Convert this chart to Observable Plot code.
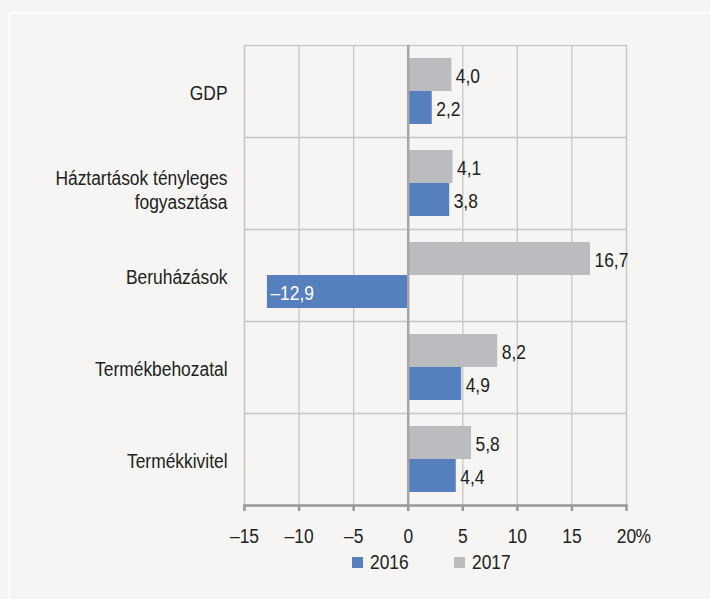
<!DOCTYPE html>
<html>
<head>
<meta charset="utf-8">
<script src="https://cdn.jsdelivr.net/npm/d3@7"></script>
<script src="https://cdn.jsdelivr.net/npm/@observablehq/plot@0.6"></script>
<style>
  html, body { margin: 0; padding: 0; background: #f6f5f3; }
  body { width: 710px; height: 599px; position: relative; overflow: hidden;
         font-family: "Liberation Sans", Arial, sans-serif; }
  #border { position: absolute; left: 8px; top: 12px; right: 0; bottom: 0;
            border-left: 2px solid #fdfcfa; border-top: 2px solid #fdfcfa; }
  #chart { position: absolute; left: 0; top: 0; }
  #legend { position: absolute; top: 551px; left: 352px; display: flex; align-items: center;
            font-size: 20px; color: #222; }
  #legend .item { display: flex; align-items: center; }
  #legend .sw { width: 11px; height: 11px; margin-right: 7px; }
  #legend .lbl { display: inline-block; transform: scaleX(0.87); transform-origin: left center; }
</style>
</head>
<body>
<div id="border"></div>
<div id="chart"></div>
<div id="legend"></div>
<script>
const categories = ["GDP", "Háztartások tényleges\nfogyasztása", "Beruházások", "Termékbehozatal", "Termékkivitel"];
const series = ["2016", "2017"];
const values2016 = [2.2, 3.8, -12.9, 4.9, 4.4];
const values2017 = [4.0, 4.1, 16.7, 8.2, 5.8];
const xTicks = [-15, -10, -5, 0, 5, 10, 15, 20];
const colors = {"2016": "#557fbd", "2017": "#bbbcbf"};

const data = [];
categories.forEach((c, i) => {
  data.push({cat: c, series: "2017", value: values2017[i]});
  data.push({cat: c, series: "2016", value: values2016[i]});
});
const lastCat = categories[categories.length - 1];
const fmt = v => (v < 0 ? "\u2013" : "") + Math.abs(v).toFixed(1).replace(".", ",");
const tickFmt = v => v < 0 ? "\u2013" + Math.abs(v) : String(v);

const font = '"Liberation Sans", Arial, sans-serif';

const chart = Plot.plot({
  width: 710,
  height: 560,
  marginLeft: 244,
  marginRight: 84,
  marginTop: 43,
  marginBottom: 53,
  style: {background: "transparent", fontFamily: font, fontSize: "20px", color: "#222"},
  x: {domain: [-15, 20], axis: null},
  y: {domain: ["2017", "2016"], paddingInner: 0, paddingOuter: 0.37, axis: null},
  fy: {domain: categories, padding: 0, axis: null},
  marks: [
    Plot.gridX(xTicks, {stroke: "#c6c6c6", strokeOpacity: 1, strokeWidth: 1.3}),
    Plot.frame({stroke: "#c6c6c6", strokeWidth: 1.3}),
    Plot.barX(data, {x: "value", y: "series", fy: "cat", fill: d => colors[d.series], inset: 0}),
    Plot.ruleX([0], {stroke: "#a6a6a6", strokeWidth: 2.5}),
    Plot.text(data.filter(d => d.value >= 0), {
      x: "value", y: "series", fy: "cat",
      text: d => fmt(d.value),
      textAnchor: "start", dx: 4, dy: 2,
      fill: "#222", fontSize: 20
    }),
    Plot.text(data.filter(d => d.value < 0), {
      x: "value", y: "series", fy: "cat",
      text: d => fmt(d.value),
      textAnchor: "start", dx: 3, dy: 2,
      fill: "#ffffff", fontSize: 20
    }),
    Plot.text(categories.filter(c => !c.includes("\n")), {
      fy: d => d, text: d => d, frameAnchor: "left", textAnchor: "end",
      dx: -17, dy: 2, fontSize: 20, fill: "#222"
    }),
    Plot.text(categories.filter(c => c.includes("\n")), {
      fy: d => d, text: d => d, frameAnchor: "left", textAnchor: "end",
      dx: -17, dy: 6, lineHeight: 1.2, fontSize: 20, fill: "#222"
    }),
    Plot.frame({anchor: "bottom", stroke: "#999", strokeWidth: 2.5, facetAnchor: "bottom"}),
    Plot.axisX(xTicks, {
      anchor: "bottom", tickSize: 6, tickPadding: 17, tickFormat: tickFmt,
      stroke: "#999", strokeWidth: 2.5, fontSize: 20, fill: "#222", label: null
    }),
    Plot.text([{cat: lastCat}], {
      fy: "cat", x: () => 20, text: () => "%", frameAnchor: "bottom",
      textAnchor: "start", lineAnchor: "top", dx: 9, dy: 23, fontSize: 20, fill: "#222"
    })
  ]
});
document.getElementById("chart").appendChild(chart);

// Condense all texts horizontally about their anchor x (reference uses a narrow face)
chart.querySelectorAll("text").forEach(t => {
  const tr = t.getAttribute("transform") || "";
  let x = parseFloat(t.getAttribute("x"));
  if (!isFinite(x)) x = 0;
  t.setAttribute("transform", `${tr} translate(${x},0) scale(0.87,1) translate(${-x},0)`);
});

const legend = document.getElementById("legend");
series.forEach((s, i) => {
  const item = document.createElement("div");
  item.className = "item";
  if (i > 0) item.style.marginLeft = "39px";
  const sw = document.createElement("div");
  sw.className = "sw";
  sw.style.background = colors[s];
  const t = document.createElement("span");
  t.className = "lbl";
  t.textContent = s;
  item.appendChild(sw);
  item.appendChild(t);
  legend.appendChild(item);
});
</script>
</body>
</html>
